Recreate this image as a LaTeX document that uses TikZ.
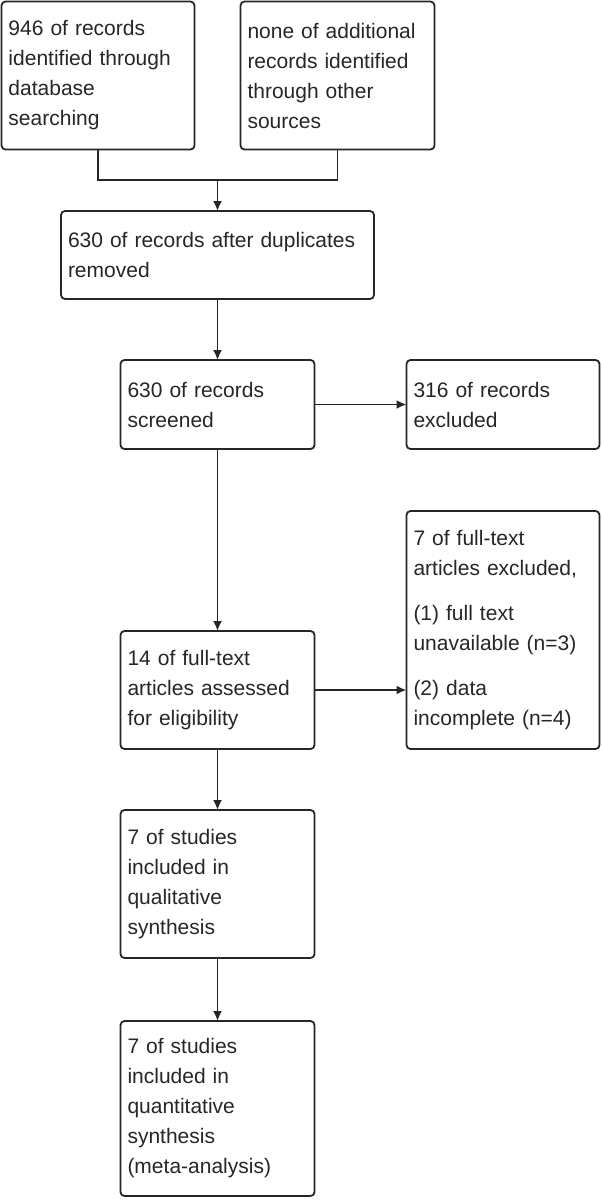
\documentclass[tikz,border=0pt]{standalone}
\usepackage{fontspec}
\setmainfont{Liberation Sans}
\usetikzlibrary{positioning,arrows.meta}

\begin{document}
\begin{tikzpicture}[
    x=1pt, y=1pt,
    node distance=61pt,
    box/.style={draw=black!85, line width=1.8pt, rounded corners=4pt, outer sep=0pt, align=left, inner xsep=7pt, inner ysep=0pt, text width=179pt, font=\fontsize{21}{30}\selectfont, text=black!85},
    arr/.style={draw=black!85, line width=1.8pt, -{Latex[length=10pt,width=9pt]}},
    line/.style={draw=black!85, line width=1.8pt},
]
\useasboundingbox (0,0) rectangle (602,-1200);
% identification
\node[box, minimum height=148pt, anchor=north west] (db) at (1.5,-1.5)
    {946 of records\\identified through\\database\\searching};
\node[box, minimum height=148pt, text width=180pt, right=46pt of db] (oth)
    {none of additional\\records identified\\through other\\sources};
\coordinate (join) at (217.5,-180);
\node[box, minimum height=88pt, text width=299pt, anchor=north] (dup) at (217.5,-211)
    {630 of records after duplicates\\removed};
% screening
\node[box, minimum height=89pt, text width=180pt, below=of dup] (scr) {630 of records\\screened};
\node[box, minimum height=89pt, right=92pt of scr] (exc) {316 of records\\excluded};
% eligibility
\node[box, minimum height=118pt, text width=180pt, below=182pt of scr] (elig)
    {14 of full-text\\articles assessed\\for eligibility};
\node[box, minimum height=238pt, anchor=south west] (ftx) at ([xshift=92pt]elig.south east)
    {7 of full-text\\articles excluded,\\[15pt](1) full text\\unavailable (n=3)\\[15pt](2) data\\incomplete (n=4)};
% included
\node[box, minimum height=148pt, text width=180pt, below=of elig] (qual)
    {7 of studies\\included in\\qualitative\\synthesis};
\node[box, minimum height=175pt, text width=180pt, below=63pt of qual] (quan)
    {7 of studies\\included in\\quantitative\\synthesis\\(meta-analysis)};

\draw[line] (db.south) |- (join) -| (oth.south);
\draw[arr] (join) -- (dup);
\draw[arr] (dup) -- (scr);
\draw[arr] (scr) -- (exc);
\draw[arr] (scr) -- (elig);
\draw[arr] (elig.east) -- (elig.east -| ftx.west);
\draw[arr] (elig) -- (qual);
\draw[arr] (qual) -- (quan);
\end{tikzpicture}
\end{document}
